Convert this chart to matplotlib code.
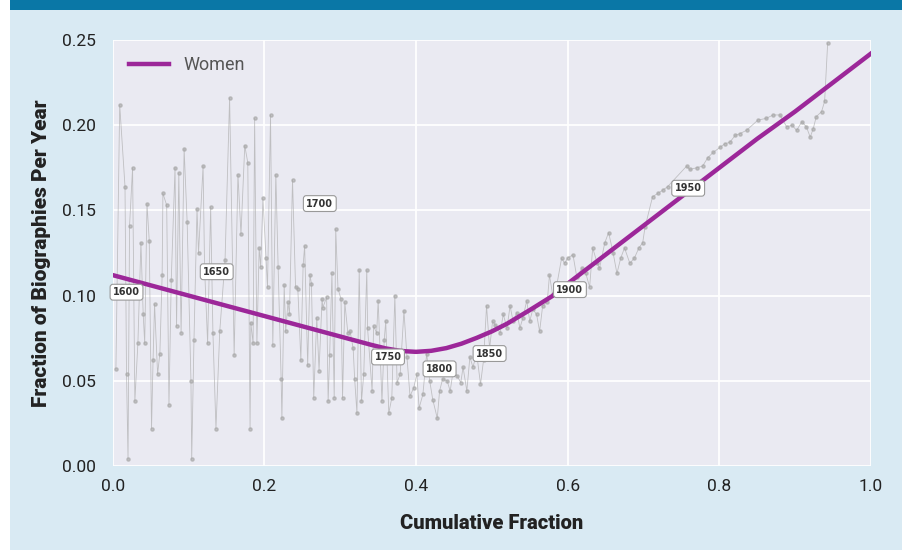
import matplotlib.pyplot as plt
from matplotlib.patches import Rectangle

# yearly points (cumulative fraction, fraction of biographies per year)
cum_frac = [0.004, 0.009, 0.016, 0.018, 0.020, 0.022, 0.026, 0.029, 0.033, 0.037,
            0.040, 0.042, 0.045, 0.048, 0.051, 0.053, 0.055, 0.059, 0.062, 0.065,
            0.066, 0.071, 0.074, 0.077, 0.082, 0.084, 0.087, 0.090, 0.094, 0.098,
            0.103, 0.104, 0.107, 0.111, 0.113, 0.119, 0.121, 0.125, 0.129, 0.132,
            0.136, 0.141, 0.148, 0.154, 0.160, 0.165, 0.169, 0.174, 0.178, 0.181,
            0.182, 0.185, 0.187, 0.190, 0.193, 0.195, 0.198, 0.202, 0.204, 0.208,
            0.211, 0.215, 0.218, 0.222, 0.223, 0.226, 0.228, 0.231, 0.233, 0.237,
            0.241, 0.244, 0.248, 0.251, 0.253, 0.257, 0.260, 0.262, 0.265, 0.269,
            0.272, 0.276, 0.277, 0.282, 0.284, 0.286, 0.289, 0.292, 0.294, 0.297,
            0.301, 0.303, 0.306, 0.310, 0.313, 0.317, 0.319, 0.322, 0.325, 0.328,
            0.331, 0.335, 0.336, 0.342, 0.344, 0.348, 0.350, 0.355, 0.358, 0.360,
            0.364, 0.368, 0.372, 0.375, 0.379, 0.384, 0.388, 0.392, 0.397, 0.401,
            0.404, 0.409, 0.414, 0.418, 0.422, 0.428, 0.431, 0.435, 0.441, 0.445,
            0.449, 0.454, 0.459, 0.462, 0.467, 0.471, 0.475, 0.480, 0.485, 0.489,
            0.493, 0.497, 0.501, 0.504, 0.511, 0.515, 0.520, 0.524, 0.528, 0.533,
            0.537, 0.541, 0.546, 0.550, 0.554, 0.559, 0.563, 0.567, 0.573, 0.576,
            0.580, 0.586, 0.592, 0.596, 0.600, 0.607, 0.612, 0.619, 0.624, 0.629,
            0.633, 0.639, 0.642, 0.649, 0.654, 0.660, 0.665, 0.670, 0.675, 0.682,
            0.688, 0.694, 0.699, 0.702, 0.712, 0.719, 0.726, 0.732, 0.757, 0.761,
            0.770, 0.778, 0.785, 0.792, 0.801, 0.807, 0.814, 0.821, 0.827, 0.836,
            0.851, 0.862, 0.871, 0.880, 0.889, 0.896, 0.902, 0.909, 0.915, 0.920,
            0.924, 0.928, 0.935, 0.939, 0.943]
per_year = [0.057, 0.212, 0.164, 0.054, 0.004, 0.141, 0.175, 0.038, 0.072, 0.131,
            0.089, 0.072, 0.154, 0.132, 0.022, 0.062, 0.095, 0.054, 0.066, 0.112,
            0.160, 0.153, 0.036, 0.109, 0.175, 0.082, 0.172, 0.078, 0.186, 0.143,
            0.050, 0.004, 0.074, 0.151, 0.125, 0.176, 0.116, 0.072, 0.152, 0.078,
            0.022, 0.079, 0.121, 0.216, 0.065, 0.171, 0.136, 0.188, 0.178, 0.022,
            0.084, 0.072, 0.204, 0.072, 0.128, 0.117, 0.157, 0.122, 0.105, 0.206,
            0.071, 0.171, 0.117, 0.051, 0.028, 0.106, 0.079, 0.096, 0.089, 0.168,
            0.105, 0.104, 0.062, 0.118, 0.129, 0.059, 0.112, 0.107, 0.040, 0.087,
            0.056, 0.098, 0.093, 0.099, 0.038, 0.065, 0.113, 0.040, 0.139, 0.104,
            0.098, 0.040, 0.096, 0.078, 0.079, 0.069, 0.051, 0.031, 0.115, 0.038,
            0.054, 0.115, 0.081, 0.044, 0.082, 0.078, 0.097, 0.038, 0.074, 0.085,
            0.031, 0.040, 0.100, 0.049, 0.054, 0.091, 0.064, 0.041, 0.046, 0.054,
            0.034, 0.042, 0.066, 0.050, 0.039, 0.028, 0.044, 0.051, 0.050, 0.044,
            0.056, 0.053, 0.049, 0.058, 0.044, 0.064, 0.058, 0.066, 0.048, 0.062,
            0.094, 0.069, 0.085, 0.083, 0.078, 0.089, 0.081, 0.094, 0.085, 0.090,
            0.081, 0.087, 0.097, 0.085, 0.092, 0.089, 0.079, 0.094, 0.096, 0.112,
            0.101, 0.107, 0.122, 0.119, 0.122, 0.124, 0.111, 0.116, 0.113, 0.105,
            0.128, 0.119, 0.116, 0.131, 0.137, 0.125, 0.113, 0.122, 0.128, 0.119,
            0.122, 0.128, 0.131, 0.140, 0.158, 0.160, 0.162, 0.164, 0.176, 0.174,
            0.175, 0.176, 0.181, 0.184, 0.187, 0.189, 0.190, 0.194, 0.195, 0.197,
            0.203, 0.204, 0.206, 0.206, 0.199, 0.200, 0.197, 0.202, 0.199, 0.193,
            0.198, 0.205, 0.208, 0.214, 0.248]

# smoothed trend for women
trend_x = [0.0, 0.1, 0.2, 0.3, 0.34, 0.36, 0.38, 0.40, 0.42, 0.44, 0.46, 0.48,
           0.50, 0.52, 0.55, 0.58, 0.60, 0.65, 0.70, 0.75, 0.80, 0.85, 0.90, 0.95, 1.0]
trend_y = [0.112, 0.100, 0.088, 0.076, 0.0712, 0.0690, 0.0675, 0.0670, 0.0676, 0.0692, 0.0718, 0.0752,
           0.0790, 0.0835, 0.0915, 0.0998, 0.107, 0.124, 0.141, 0.158, 0.175, 0.192, 0.208, 0.225, 0.242]

# year labels on the chart
years = ['1600', '1650', '1700', '1750', '1800', '1850', '1900', '1950']
year_x = [0.018, 0.137, 0.273, 0.363, 0.431, 0.497, 0.603, 0.759]
year_y = [0.102, 0.114, 0.154, 0.064, 0.057, 0.066, 0.1035, 0.163]

plt.rcParams['font.family'] = ['Roboto', 'DejaVu Sans']

fig = plt.figure(figsize=(9.03, 5.53), dpi=100)
fig.patch.set_facecolor('white')
fig.patches.append(Rectangle((0.011, 0.005), 0.989, 0.977, transform=fig.transFigure,
                             facecolor='#d9eaf3', edgecolor='none', zorder=-10))
fig.patches.append(Rectangle((0.011, 0.982), 0.989, 0.018, transform=fig.transFigure,
                             facecolor='#0a77a6', edgecolor='none', zorder=-10))

ax = fig.add_axes([0.125, 0.1573, 0.8394, 0.7704])
ax.set_facecolor('#eaeaf2')
ax.grid(True, color='white', linewidth=1.3)
ax.set_axisbelow(True)
for s in ax.spines.values():
    s.set_visible(False)

ax.plot(cum_frac, per_year, '-o', color='#a8a8a8', markersize=2.3, linewidth=0.6, alpha=0.65, zorder=2)
ax.plot(trend_x, trend_y, color='#9c2799', linewidth=3.2, label='Women', zorder=3)

for name, xx, yy in zip(years, year_x, year_y):
    ax.text(xx, yy, name, fontsize=7, fontweight='bold', ha='center', va='center', color='#333333',
            family=['DejaVu Sans'], zorder=4,
            bbox=dict(boxstyle='round,pad=0.3', facecolor='white', edgecolor='#999999', linewidth=0.8))

ax.set_xlim(0, 1)
ax.set_ylim(0, 0.25)
ax.set_xticks([0.0, 0.2, 0.4, 0.6, 0.8, 1.0])
ax.set_yticks([0.0, 0.05, 0.10, 0.15, 0.20, 0.25])
ax.set_yticklabels(['0.00', '0.05', '0.10', '0.15', '0.20', '0.25'])
ax.tick_params(axis='y', length=0, labelsize=12.5, colors='#222222', pad=12)
ax.tick_params(axis='x', length=0, labelsize=12.5, colors='#222222', pad=9)
ax.set_xlabel('Cumulative Fraction', fontsize=14.5, fontweight='black', labelpad=15, color='#222222')
ax.set_ylabel('Fraction of Biographies Per Year', fontsize=15, fontweight='black', labelpad=8, color='#222222')

leg = ax.legend(loc='upper left', frameon=False, fontsize=13, handlelength=2.2, borderaxespad=0.5)
for t in leg.get_texts():
    t.set_color('#555555')

plt.savefig('out.png', dpi=100, facecolor=fig.get_facecolor())
